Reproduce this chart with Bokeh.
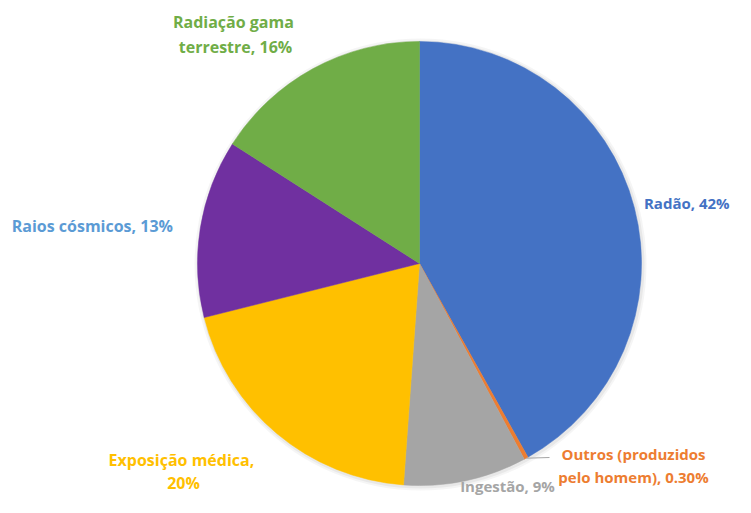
import numpy as np
from bokeh.plotting import figure
from bokeh.models import Range1d, ColumnDataSource
from bokeh.core.properties import value
from bokeh.embed import file_html
from bokeh.resources import INLINE

categories = ["Radão", "Outros (produzidos pelo homem)", "Ingestão", "Exposição médica", "Raios cósmicos", "Radiação gama terrestre"]
values = [42, 0.3, 9, 20, 13, 16]
pct_labels = ["42%", "0.30%", "9%", "20%", "13%", "16%"]
colors = ["#4472C4", "#ED7D31", "#A5A5A5", "#FFC000", "#7030A0", "#70AD47"]
label_colors = ["#4472C4", "#ED7D31", "#A5A5A5", "#FFC000", "#5B9BD5", "#70AD47"]

W, H = 735, 497
p = figure(width=W, height=H, output_backend="svg", toolbar_location=None,
           x_range=Range1d(0, W), y_range=Range1d(0, H), min_border=0)
p.axis.visible = False
p.grid.visible = False
p.outline_line_color = None
p.background_fill_color = "white"

def sy(s):
    return H - s

vals = np.array(values, dtype=float)
frac = vals / vals.sum()
cum = np.concatenate([[0], np.cumsum(frac)])
start = np.pi / 2 - cum[:-1] * 2 * np.pi
end = np.pi / 2 - cum[1:] * 2 * np.pi
cx, cy, r = 419, sy(263), 222

src = ColumnDataSource(dict(start=start, end=end, color=colors))
# soft shadow
for k, a in [(4, 0.04), (2, 0.05)]:
    p.circle(x=[cx + 1], y=[cy - 1], radius=r + k, fill_color="#000000", fill_alpha=a, line_color=None)
p.wedge(x=cx, y=cy, radius=r, start_angle="start", end_angle="end", direction="clock",
        fill_color="color", line_color="color", line_width=0.5, source=src)

# leader line for Outros
mid = (start[1] + end[1]) / 2
p.line(x=[cx + r * np.cos(mid), 549], y=[cy + r * np.sin(mid), sy(457)], line_color="#A5A5A5", line_width=1)

font = value("Open Sans")
def lab(lines, x, ys, color, align="center", size="16px"):
    for line, yy in zip(lines, ys):
        p.text(x=[x], y=[sy(yy)], text=[line], text_font=font, text_font_size=size,
               text_font_style="bold", text_color=color, text_align=align, text_baseline="middle")

lab(["Radão,  " + pct_labels[0]], 733, [202], label_colors[0], align="right", size="15px")
lab(["Outros (produzidos", "pelo homem), " + pct_labels[1]], 633, [453, 476], label_colors[1], size="15px")
lab(["Ingestão, " + pct_labels[2]], 507, [485], label_colors[2], size="15px")
lab(["Exposição  médica,", pct_labels[3]], 183, [459, 482], label_colors[3])
lab(["Raios  cósmicos,  " + pct_labels[4]], 96, [225], label_colors[4])
lab(["Radiação  gama", "terrestre, " + pct_labels[5]], 235, [21, 46], label_colors[5])

open("out.html", "w").write(file_html(p, INLINE))
